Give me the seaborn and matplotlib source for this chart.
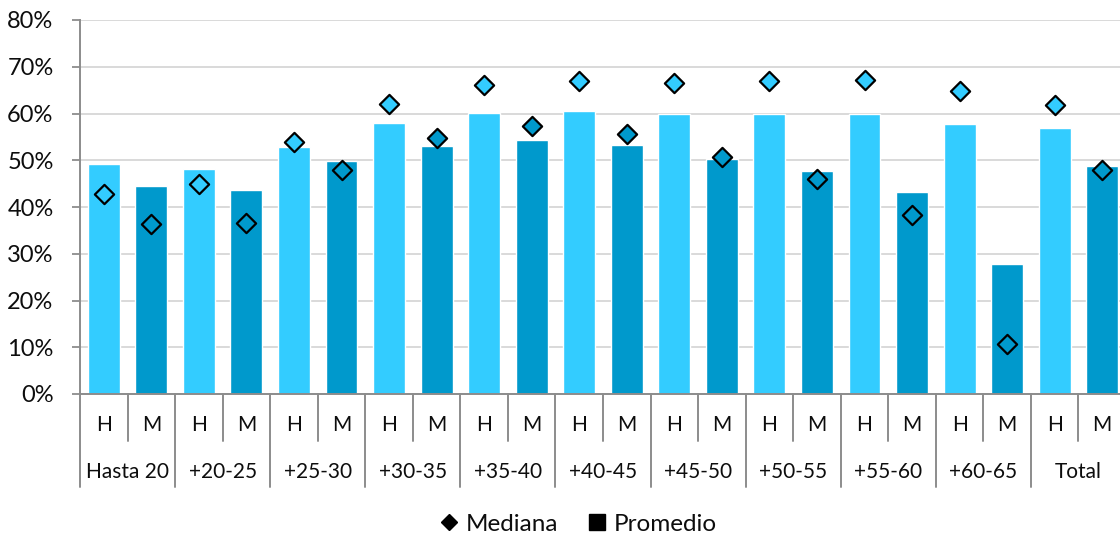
import matplotlib
matplotlib.use("Agg")
import matplotlib.pyplot as plt
import matplotlib.transforms as mtransforms
from matplotlib.lines import Line2D
from matplotlib.ticker import FuncFormatter
import seaborn as sns
import pandas as pd

# Age groups and sexes (H = hombres, M = mujeres)
grupos = ["Hasta 20", "+20-25", "+25-30", "+30-35", "+35-40", "+40-45",
          "+45-50", "+50-55", "+55-60", "+60-65", "Total"]
sexos = ["H", "M"]

# Promedio (bars), in %, per group
promedio_h = [49.3, 48.1, 52.9, 57.9, 60.2, 60.5, 60.0, 60.0, 59.9, 57.7, 56.8]
promedio_m = [44.4, 43.6, 49.8, 53.0, 54.3, 53.2, 50.2, 47.6, 43.2, 27.8, 48.7]

# Mediana (diamonds), in %
mediana_h = [42.7, 44.9, 53.9, 62.1, 66.1, 67.0, 66.6, 67.0, 67.2, 64.9, 61.9]
mediana_m = [36.3, 36.5, 48.0, 54.8, 57.3, 55.7, 50.7, 45.9, 38.2, 10.6, 48.0]

y_ticks = [0, 10, 20, 30, 40, 50, 60, 70, 80]

color_h = "#33CCFF"
color_m = "#0099CC"
axis_gray = "#8C8C8C"
grid_gray = "#D9D9D9"
text_color = "#0D0D0D"

rows = []
for g, ph, pm, mh, mm in zip(grupos, promedio_h, promedio_m, mediana_h, mediana_m):
    rows.append({"grupo": g, "sexo": "H", "promedio": ph, "mediana": mh})
    rows.append({"grupo": g, "sexo": "M", "promedio": pm, "mediana": mm})
df = pd.DataFrame(rows)
df["clave"] = df["grupo"] + "|" + df["sexo"]
orden = list(df["clave"])

sns.set_style("white")
plt.rcParams["font.family"] = ["Lato", "DejaVu Sans"]

fig = plt.figure(figsize=(11.2, 5.37), dpi=100)
ax = fig.add_axes([80 / 1120, 143 / 537, 1046 / 1120, 374 / 537])

paleta = {"H": color_h, "M": color_m}
sns.barplot(data=df, x="clave", y="promedio", hue="sexo", palette=paleta,
            order=orden, hue_order=sexos, width=0.67, dodge=False,
            saturation=1, legend=False, ax=ax, zorder=2)
sns.stripplot(data=df, x="clave", y="mediana", hue="sexo", palette=paleta,
              order=orden, hue_order=sexos, dodge=False, jitter=False,
              marker="D", size=9.8, linewidth=1.6, edgecolor="black",
              legend=False, ax=ax, zorder=3)

ax.set_xlim(-0.5, len(orden) - 0.5)
ax.set_ylim(0, 80)
ax.set_yticks(y_ticks)
ax.yaxis.set_major_formatter(FuncFormatter(lambda v, _: f"{v:.0f}%"))
ax.tick_params(axis="y", labelsize=17, length=6, width=1.3, color=axis_gray,
               pad=13, left=True, labelcolor=text_color)
ax.set_xticks([])
ax.set_xlabel("")
ax.set_ylabel("")

ax.set_axisbelow(True)
ax.yaxis.grid(True, color=grid_gray, linewidth=1.4)
for side in ("top", "right"):
    ax.spines[side].set_visible(False)
for side in ("left", "bottom"):
    ax.spines[side].set_color(axis_gray)
    ax.spines[side].set_linewidth(1.4)

# Two-level category axis: sex labels and age-group labels with dividers
trans = mtransforms.blended_transform_factory(ax.transData, ax.transAxes)
y_sexo = -31 / 374
y_grupo = -78 / 374
y_corto = -47 / 374
y_largo = -93 / 374

for i, clave in enumerate(orden):
    ax.text(i, y_sexo, clave.split("|")[1], transform=trans, ha="center",
            va="center", fontsize=15, color=text_color)
for k, g in enumerate(grupos):
    centro = 2 * k + 0.5
    ax.text(centro, y_grupo, g, transform=trans, ha="center", va="center",
            fontsize=15, color=text_color)
    ax.plot([centro, centro], [0, y_corto], transform=trans, color=axis_gray,
            lw=1.4, clip_on=False)
for k in range(len(grupos) + 1):
    xb = 2 * k - 0.5
    ax.plot([xb, xb], [0, y_largo], transform=trans, color=axis_gray,
            lw=1.4, clip_on=False)

handles = [
    Line2D([], [], marker="D", color="black", linestyle="none", markersize=8),
    Line2D([], [], marker="s", color="black", linestyle="none", markersize=11),
]
fig.legend(handles, ["Mediana", "Promedio"], loc="center",
           bbox_to_anchor=(578 / 1120, 1 - 524 / 537), ncol=2, frameon=False,
           fontsize=17.5, handlelength=0.8, handletextpad=0.3,
           columnspacing=1.2, labelcolor=text_color)

fig.savefig("out.png", dpi=100)
